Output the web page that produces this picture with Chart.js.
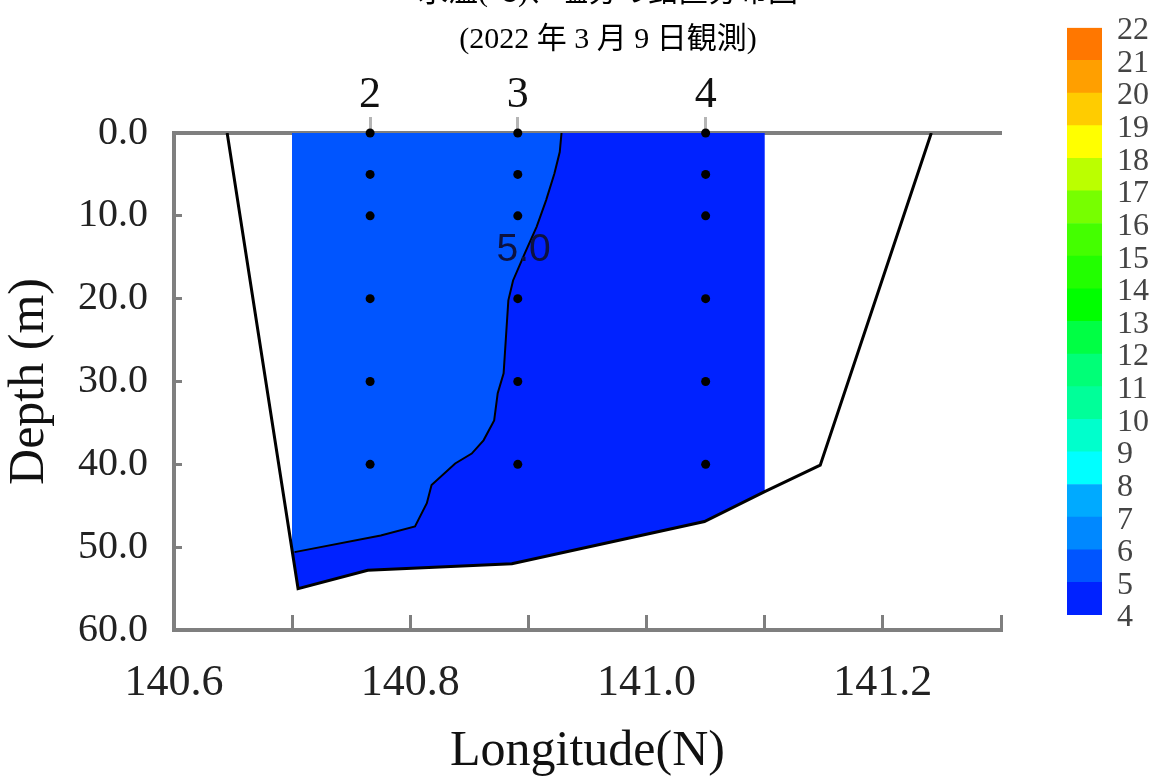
<!DOCTYPE html>
<html>
<head>
<meta charset="utf-8">
<script src="https://cdn.jsdelivr.net/npm/chart.js@4.4.1/dist/chart.umd.min.js"></script>
<style>
  body { margin: 0; background: #fff; }
  #wrap { position: relative; width: 1160px; height: 784px; }
  #section { position: absolute; left: 0; top: 0; }
  #colorbar { position: absolute; left: 1060px; top: 0; }
</style>
</head>
<body>
<div id="wrap">
  <canvas id="section" width="1160" height="784"></canvas>
  <canvas id="colorbar" width="100" height="784"></canvas>
</div>
<script>
// Title
const titleLines = ['水温(℃)、塩分の鉛直分布図', '(2022 年 3 月 9 日観測)'];

// Stations and sampling depths
const stationNames = ['2', '3', '4'];
const stationLon = [140.766, 140.891, 141.050];
const sampleDepths = [0, 5, 10, 20, 30, 40];

// Sea bottom profile
const bottomLon = [140.645, 140.705, 140.764, 140.886, 141.049, 141.100, 141.147, 141.241];
const bottomDepth = [0, 55.0, 52.8, 52.0, 46.9, 43.3, 40.1, 0];

// 4-5 band (whole gridded area)
const band4Lon = [140.700, 141.100, 141.100, 141.049, 140.886, 140.764, 140.705, 140.700, 140.700];
const band4Depth = [0, 0, 43.3, 46.9, 52.0, 52.8, 55.0, 50.3, 0];

// 5.0 isotherm
const iso5Lon = [140.928, 140.9265, 140.922, 140.915, 140.907, 140.897, 140.887, 140.883, 140.881, 140.879,
                 140.874, 140.871, 140.862, 140.852, 140.838, 140.818, 140.814, 140.804, 140.775, 140.702];
const iso5Depth = [0, 2.3, 4.9, 8.1, 11.3, 14.5, 17.8, 20.2, 24.6, 29.0,
                   31.4, 34.7, 37.1, 38.7, 39.9, 42.5, 44.7, 47.5, 48.6, 50.6];
const isoLabel = '5.0';
const isoLabelLon = 140.896;
const isoLabelDepth = 14.1;

// Colour scale
const colorLevels = [4, 5, 6, 7, 8, 9, 10, 11, 12, 13, 14, 15, 16, 17, 18, 19, 20, 21, 22];
const bandColors = ['#0022ff', '#0055ff', '#0088ff', '#00aaff', '#00ffff', '#00ffcc', '#00ff99', '#00ff77',
                    '#00ff44', '#00ff00', '#22ff00', '#44ff00', '#77ff00', '#bbff00', '#ffff00', '#ffcc00',
                    '#ff9f00', '#ff7700'];

const serif = '"Liberation Serif", "Times New Roman", serif';

function points(lons, depths) {
    return lons.map((x, i) => ({ x: x, y: depths[i] }));
}

let stationPoints = [];
stationLon.forEach(lon => {
    sampleDepths.forEach(d => stationPoints.push({ x: lon, y: d }));
});

// light band: section edge + isotherm
const band5 = [{ x: 140.7, y: 0 }]
    .concat(points(iso5Lon, iso5Depth))
    .concat([{ x: 140.7, y: 50.3 }, { x: 140.7, y: 0 }]);

const textPlugin = {
    id: 'texts',
    afterDatasetsDraw(chart) {
        const ctx = chart.ctx;
        const x = chart.scales.x;
        const y = chart.scales.y;
        ctx.save();
        ctx.textAlign = 'center';
        ctx.textBaseline = 'middle';
        ctx.fillStyle = '#0d1240';
        ctx.font = '39px "Liberation Sans", Arial, sans-serif';
        ctx.fillText(isoLabel, x.getPixelForValue(isoLabelLon), y.getPixelForValue(isoLabelDepth));

        ctx.fillStyle = '#000';
        ctx.font = '30px "Liberation Serif", "Noto Sans CJK JP", serif';
        ctx.fillText(titleLines[0], 608, -7);
        ctx.fillText(titleLines[1], 608, 40);
        ctx.restore();
    }
};

new Chart(document.getElementById('section'), {
    type: 'line',
    data: {
        datasets: [
            {
                label: 'stations',
                data: stationPoints,
                showLine: false,
                pointRadius: 4.5,
                pointBackgroundColor: '#000',
                pointBorderWidth: 0,
                clip: false
            },
            {
                label: 'bottom',
                data: points(bottomLon, bottomDepth),
                borderColor: '#000',
                borderWidth: 3,
                pointRadius: 0,
                fill: false
            },
            {
                label: '5.0',
                data: points(iso5Lon, iso5Depth),
                borderColor: '#000',
                borderWidth: 2,
                pointRadius: 0,
                fill: false
            },
            {
                label: '5-6',
                data: band5,
                borderColor: 'transparent',
                borderWidth: 1,
                pointRadius: 0,
                backgroundColor: bandColors[1],
                fill: 'shape'
            },
            {
                label: '4-5',
                data: points(band4Lon, band4Depth),
                borderColor: 'transparent',
                borderWidth: 1,
                pointRadius: 0,
                backgroundColor: bandColors[0],
                fill: 'shape'
            }
        ]
    },
    options: {
        responsive: false,
        animation: false,
        events: [],
        layout: { padding: { left: 0, top: 0, right: 159, bottom: 0 } },
        plugins: {
            legend: { display: false },
            tooltip: { enabled: false }
        },
        scales: {
            x: {
                type: 'linear',
                position: 'bottom',
                min: 140.6,
                max: 141.3,
                afterFit: s => { s.height = 154; },
                border: { color: '#7f7f7f', width: 4 },
                grid: { drawOnChartArea: false, tickLength: -15, tickWidth: 3, tickColor: '#7f7f7f' },
                ticks: {
                    stepSize: 0.1,
                    autoSkip: false,
                    maxRotation: 0,
                    padding: 42,
                    color: '#222',
                    font: { family: serif, size: 44 },
                    callback: v => Math.round(v * 10) % 2 === 0 ? v.toFixed(1) : ''
                },
                title: {
                    display: true,
                    text: 'Longitude(N)',
                    color: '#111',
                    font: { family: serif, size: 50 },
                    padding: { top: 0, bottom: 2 }
                }
            },
            x2: {
                type: 'linear',
                position: 'top',
                min: 140.6,
                max: 141.3,
                afterFit: s => { s.height = 133; },
                afterBuildTicks: s => { s.ticks = stationLon.map(v => ({ value: v })); },
                border: { color: '#7f7f7f', width: 4 },
                grid: { drawOnChartArea: false, tickLength: 16, tickWidth: 3, tickColor: '#b5b5b5' },
                ticks: {
                    autoSkip: false,
                    maxRotation: 0,
                    padding: 0,
                    color: '#111',
                    font: { family: serif, size: 44, lineHeight: 1 },
                    callback: (v, i) => stationNames[i]
                }
            },
            y: {
                type: 'linear',
                reverse: true,
                min: 0,
                max: 60,
                afterFit: s => { s.width = 174; },
                border: { color: '#7f7f7f', width: 4 },
                grid: { drawOnChartArea: false, tickLength: -8, tickWidth: 3, tickColor: '#7f7f7f' },
                ticks: {
                    stepSize: 5,
                    padding: 34,
                    color: '#222',
                    font: { family: serif, size: 40 },
                    callback: v => v % 10 === 0 ? v.toFixed(1) : ''
                },
                title: {
                    display: true,
                    text: 'Depth (m)',
                    color: '#111',
                    font: { family: serif, size: 50 },
                    padding: 0
                }
            }
        }
    },
    plugins: [textPlugin]
});

// Colour bar
new Chart(document.getElementById('colorbar'), {
    type: 'bar',
    data: {
        labels: [''],
        datasets: bandColors.map((c, i) => ({
            label: colorLevels[i] + '-' + colorLevels[i + 1],
            data: [[colorLevels[i], colorLevels[i + 1]]],
            backgroundColor: c,
            borderWidth: 0,
            grouped: false,
            barPercentage: 1,
            categoryPercentage: 1
        }))
    },
    options: {
        responsive: false,
        animation: false,
        events: [],
        layout: { padding: { left: 7, top: 15, right: 0, bottom: 169 } },
        plugins: {
            legend: { display: false },
            tooltip: { enabled: false }
        },
        scales: {
            x: { display: false },
            y: {
                position: 'right',
                min: 4,
                max: 22,
                afterFit: s => { s.width = 58; },
                border: { display: false },
                grid: { display: false, drawTicks: false },
                ticks: {
                    stepSize: 1,
                    padding: 15,
                    labelOffset: 3,
                    color: '#444',
                    font: { family: serif, size: 32, lineHeight: 0.8 }
                }
            }
        }
    }
});
</script>
</body>
</html>
